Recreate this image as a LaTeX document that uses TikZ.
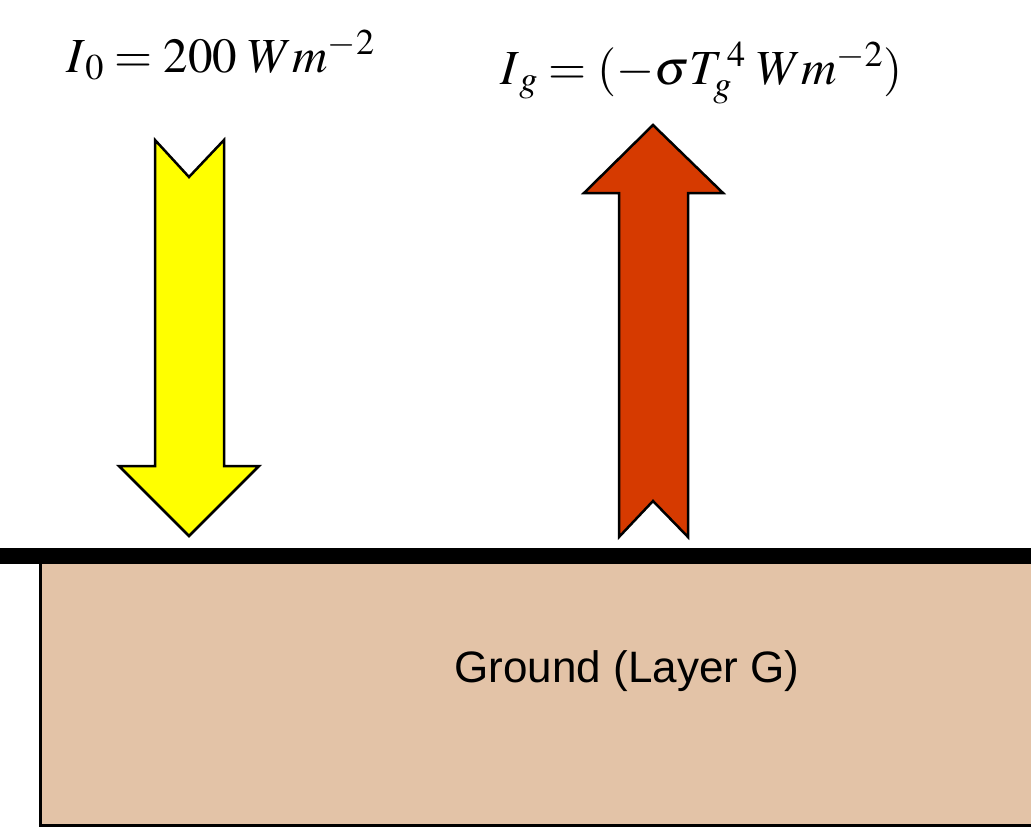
\documentclass[tikz,border=0pt]{standalone}
\usepackage{mathptmx}
\usepackage[no-math]{fontspec}
\newfontfamily\arialfont{Liberation Sans}
\definecolor{sunyellow}{HTML}{FFFF00}
\definecolor{heatred}{HTML}{D63A00}
\definecolor{groundtan}{HTML}{E3C3A7}
\tikzset{
  flux/.style={draw=black, line width=2.5pt, line join=miter},
  eqlabel/.style={anchor=base west, inner sep=0pt, font=\fontsize{49}{53}\selectfont},
  groundbox/.style={draw=black, line width=3pt, fill=groundtan},
}
\begin{document}
\begin{tikzpicture}[x=1pt, y=-1pt]
\useasboundingbox (0,0) rectangle (1031,836);
% ground
\draw[groundbox] (40,560) -- (40,825) -- (1045,825) -- (1045,560);
\fill[black] (0,548) rectangle (1031,564);
\node[anchor=center, inner sep=0pt, font=\arialfont\fontsize{44}{48}\selectfont] (ground) at (627,671) {Ground (Layer G)};
% incoming arrow
\draw[flux, fill=sunyellow] (155,140) -- (189,177) -- (224,140) -- (224,466) -- (259,466) -- (189,536) -- (119,466) -- (155,466) -- cycle;
% outgoing arrow
\draw[flux, fill=heatred] (653,125) -- (723,193) -- (688,193) -- (688,537) -- (653,501) -- (619,537) -- (619,193) -- (584,193) -- cycle;
% labels
\node[eqlabel] (io) at (66,72) {$I_{\,0} = 200\;Wm^{-2}$};
\node[eqlabel] (ig) at (500,84) {$I_{\,g} = (-\sigma T_{g}^{\,4}\;Wm^{-2})$};
\end{tikzpicture}
\end{document}
